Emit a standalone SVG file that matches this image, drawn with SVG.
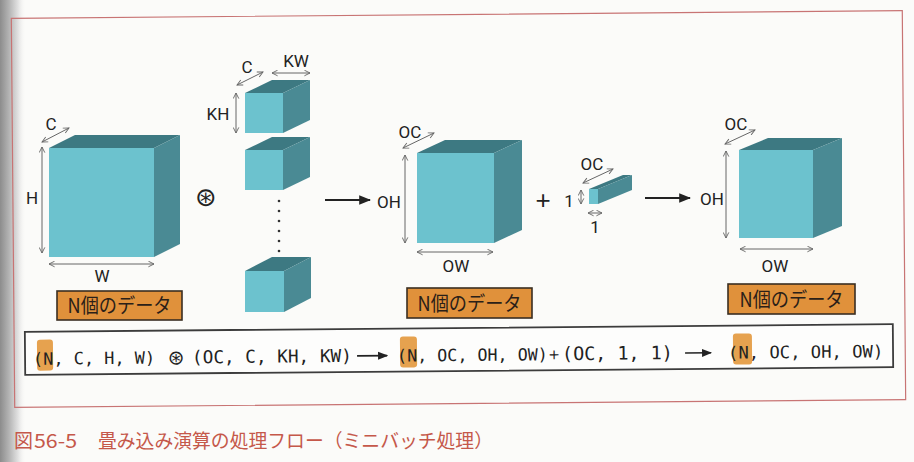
<svg xmlns="http://www.w3.org/2000/svg" width="914" height="462" viewBox="0 0 914 462">
  <defs>
    <linearGradient id="gutter" x1="0" y1="0" x2="1" y2="0">
      <stop offset="0" stop-color="#8c8c8c"/>
      <stop offset="0.35" stop-color="#b4b4b4"/>
      <stop offset="0.7" stop-color="#e2e2e2"/>
      <stop offset="1" stop-color="#fbfbf9" stop-opacity="0"/>
    </linearGradient>
    <marker id="dim" viewBox="0 0 10 10" refX="9" refY="5" markerWidth="7" markerHeight="7" markerUnits="userSpaceOnUse" orient="auto-start-reverse">
      <path d="M1,1 L9,5 L1,9" fill="none" stroke="#666" stroke-width="1.3"/>
    </marker>
    <marker id="arr" viewBox="0 0 10 10" refX="9" refY="5" markerWidth="12" markerHeight="12" markerUnits="userSpaceOnUse" orient="auto">
      <path d="M0,1 L10,5 L0,9 Z" fill="#222"/>
    </marker>
    <marker id="arrs" viewBox="0 0 10 10" refX="9" refY="5" markerWidth="10" markerHeight="10" markerUnits="userSpaceOnUse" orient="auto">
      <path d="M0,1 L10,5 L0,9 Z" fill="#222"/>
    </marker>
  </defs>
  <style>
    .front{fill:#6cc2ce}
    .top{fill:#3d7982}
    .side{fill:#4a8a94}
    .dim{stroke:#666;stroke-width:1;fill:none;marker-start:url(#dim);marker-end:url(#dim)}
    .lbl{font-family:"Liberation Sans Narrow","Roboto","Liberation Sans",sans-serif;font-size:17px;fill:#222;text-anchor:middle}
    .tag rect{fill:#e0913b;stroke:#3a2e22;stroke-width:1.6}
    .tag text{font-family:"Noto Sans CJK JP","Noto Sans",sans-serif;font-size:20px;fill:#2a2018;text-anchor:middle}
    .main{stroke:#222;stroke-width:2;fill:none;marker-end:url(#arr)}
    .fx{font-family:"DejaVu Sans Mono","Liberation Mono",monospace;fill:#222}
    .hl{fill:#e6a24f}
    .cap{font-family:"Noto Sans CJK JP","Noto Sans",sans-serif;font-size:19px;fill:#c5584a}
  </style>

  <rect x="0" y="0" width="914" height="462" fill="#fbfbf9"/>
  <rect x="0" y="0" width="26" height="462" fill="url(#gutter)"/>

  <!-- frame -->
  <rect x="13" y="14.5" width="891" height="389" fill="none" stroke="#c87474" stroke-width="1.2" transform="rotate(-0.5 458 210)"/>

  <!-- input cube -->
  <g id="input-cube">
    <polygon class="top" points="49,148 75,135 180,135 154,148"/>
    <polygon class="side" points="154,148 180,135 180,244 154,257"/>
    <rect class="front" x="49" y="148" width="105" height="109"/>
    <text class="lbl" x="51" y="130">C</text>
    <text class="lbl" x="32" y="204">H</text>
    <text class="lbl" x="102" y="282">W</text>
  </g>
  <g id="tag1" class="tag">
    <rect x="57" y="291" width="125" height="29"/>
    <text x="119.5" y="313" textLength="104" lengthAdjust="spacingAndGlyphs">N個のデータ</text>
  </g>

  <text id="conv-op" x="206" y="206" font-family="DejaVu Sans,sans-serif" font-size="26" text-anchor="middle" fill="#222">⊛</text>

  <!-- kernels -->
  <g id="kernel1">
    <polygon class="top" points="245,93 272,80 310,80 283,93"/>
    <polygon class="side" points="283,93 310,80 310,120 283,133"/>
    <rect class="front" x="245" y="93" width="38" height="40"/>
    <text class="lbl" x="247" y="73">C</text>
    <text class="lbl" x="296" y="67">KW</text>
    <text class="lbl" x="218" y="120">KH</text>
  </g>
  <g id="kernel2">
    <polygon class="top" points="245,150 272,137 310,137 283,150"/>
    <polygon class="side" points="283,150 310,137 310,177 283,190"/>
    <rect class="front" x="245" y="150" width="38" height="40"/>
  </g>
  <g id="kernel-dots" fill="#333">
    <circle cx="279" cy="201" r="1.3"/>
    <circle cx="279" cy="211" r="1.3"/>
    <circle cx="279" cy="221" r="1.3"/>
    <circle cx="279" cy="231" r="1.3"/>
    <circle cx="279" cy="241" r="1.3"/>
    <circle cx="279" cy="251" r="1.3"/>
  </g>
  <g id="kernel3">
    <polygon class="top" points="245,271 272,257 311,257 284,271"/>
    <polygon class="side" points="284,271 311,257 311,298 284,312"/>
    <rect class="front" x="245" y="271" width="39" height="41"/>
  </g>

  <!-- conv output -->
  <g id="conv-out">
    <polygon class="top" points="417,153 445,140 522,140 494,153"/>
    <polygon class="side" points="494,153 522,140 522,230 494,243"/>
    <rect class="front" x="417" y="153" width="77" height="90"/>
    <text class="lbl" x="410" y="138">OC</text>
    <text class="lbl" x="389" y="208">OH</text>
    <text class="lbl" x="456" y="272">OW</text>
  </g>
  <g id="tag2" class="tag">
    <rect x="407" y="288" width="125" height="30"/>
    <text x="469.5" y="310.5" textLength="104" lengthAdjust="spacingAndGlyphs">N個のデータ</text>
  </g>

  <text id="plus" x="543" y="209" font-family="Liberation Sans,sans-serif" font-size="26" text-anchor="middle" fill="#222">+</text>

  <!-- bias -->
  <g id="bias">
    <polygon class="top" points="589,189 623,175 632,175 598,189"/>
    <polygon class="side" points="598,189 632,175 632,190 598,204"/>
    <rect class="front" x="589" y="189" width="9" height="15"/>
    <text class="lbl" x="592" y="170">OC</text>
    <text class="lbl" x="569" y="207">1</text>
    <text class="lbl" x="595" y="233">1</text>
  </g>

  <!-- final output -->
  <g id="final-out">
    <polygon class="top" points="739,150 768,138 842,138 813,150"/>
    <polygon class="side" points="813,150 842,138 842,226 813,238"/>
    <rect class="front" x="739" y="150" width="74" height="88"/>
    <text class="lbl" x="736" y="130">OC</text>
    <text class="lbl" x="712" y="205">OH</text>
    <text class="lbl" x="775" y="272">OW</text>
  </g>
  <g id="tag3" class="tag">
    <rect x="728" y="284" width="127" height="30"/>
    <text x="791.5" y="306.5" textLength="104" lengthAdjust="spacingAndGlyphs">N個のデータ</text>
  </g>

  <!-- connectors -->
  <g id="connectors">
    <line class="dim" x1="42" y1="142" x2="69" y2="128"/>
    <line class="dim" x1="42" y1="147" x2="42" y2="253"/>
    <line class="dim" x1="49" y1="264" x2="154" y2="264"/>
    <line class="dim" x1="237" y1="85" x2="263" y2="72"/>
    <line class="dim" x1="272" y1="73" x2="310" y2="73"/>
    <line class="dim" x1="236" y1="93" x2="236" y2="133"/>
    <line class="dim" x1="403" y1="148" x2="434" y2="133"/>
    <line class="dim" x1="405" y1="155" x2="405" y2="243"/>
    <line class="dim" x1="417" y1="252" x2="493" y2="252"/>
    <line class="dim" x1="583" y1="183" x2="613" y2="169"/>
    <line class="dim" x1="581" y1="190" x2="581" y2="204"/>
    <line class="dim" x1="588" y1="213" x2="602" y2="213"/>
    <line class="dim" x1="725" y1="144" x2="755" y2="130"/>
    <line class="dim" x1="726" y1="151" x2="726" y2="238"/>
    <line class="dim" x1="740" y1="249" x2="813" y2="249"/>
    <line class="main" x1="325" y1="200" x2="370" y2="200"/>
    <line class="main" x1="645" y1="198" x2="690" y2="198"/>
  </g>

  <!-- formula -->
  <g id="formula" transform="rotate(-0.5 459 349)">
    <rect x="25" y="328" width="868" height="43" fill="#fdfdfc" stroke="#3c3c3c" stroke-width="1.8"/>
    <rect class="hl" x="37" y="336" width="16" height="31" rx="3"/>
    <rect class="hl" x="400" y="336" width="17" height="31" rx="3"/>
    <rect class="hl" x="733" y="336" width="19" height="31" rx="3"/>
    <text class="fx" x="33" y="361" font-size="16.9">(N, C, H, W)</text>
    <text x="176" y="362" font-family="DejaVu Sans,sans-serif" font-size="20" text-anchor="middle" fill="#222">⊛</text>
    <text class="fx" x="192" y="361" font-size="17.7">(OC, C, KH, KW)</text>
    <line x1="357" y1="355" x2="387" y2="355" stroke="#222" stroke-width="1.6" marker-end="url(#arrs)"/>
    <text class="fx" x="397" y="361" font-size="16.7">(N, OC, OH, OW)</text>
    <text x="554" y="360" font-family="DejaVu Sans,sans-serif" font-size="14" text-anchor="middle" fill="#222">+</text>
    <text class="fx" x="562" y="361" font-size="18.4">(OC, 1, 1)</text>
    <line x1="685" y1="355" x2="711" y2="355" stroke="#222" stroke-width="1.6" marker-end="url(#arrs)"/>
    <text class="fx" x="728" y="361" font-size="17.2">(N, OC, OH, OW)</text>
  </g>

  <!-- caption -->
  <g id="caption">
    <text class="cap" x="14" y="448" fill="#a0504a">図</text>
    <text class="cap" x="34" y="448" font-family="Liberation Sans,sans-serif" font-size="21" textLength="43" lengthAdjust="spacingAndGlyphs">56-5</text>
    <text class="cap" x="98" y="448" textLength="395" lengthAdjust="spacingAndGlyphs">畳み込み演算の処理フロー（ミニバッチ処理）</text>
  </g>
</svg>
